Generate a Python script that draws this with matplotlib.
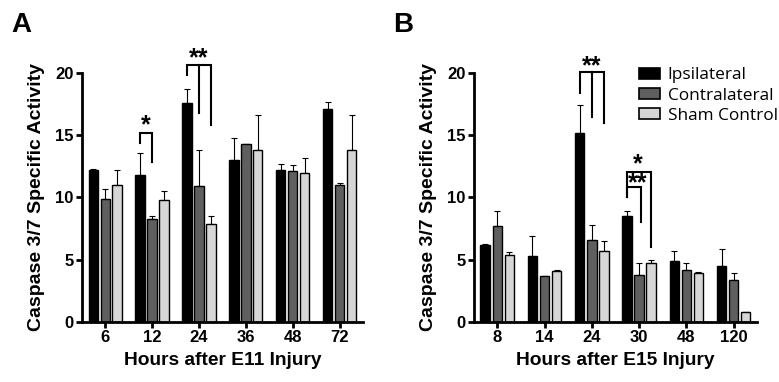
import matplotlib
matplotlib.use("Agg")
import matplotlib.pyplot as plt
import numpy as np
from matplotlib.patches import Patch
from matplotlib import font_manager as fm

series_names = ["Ipsilateral", "Contralateral", "Sham Control"]
colors = ["#000000", "#5f5f5f", "#d6d6d6"]

a_categories = ["6", "12", "24", "36", "48", "72"]
a_ipsi = [12.2, 11.8, 17.6, 13.0, 12.2, 17.1]
a_ipsi_err = [0.05, 1.8, 1.1, 1.8, 0.5, 0.6]
a_contra = [9.9, 8.3, 10.9, 14.3, 12.1, 11.0]
a_contra_err = [0.8, 0.2, 2.9, 0.0, 0.5, 0.2]
a_sham = [11.0, 9.8, 7.9, 13.8, 12.0, 13.8]
a_sham_err = [1.2, 0.7, 0.6, 2.8, 1.2, 2.8]

b_categories = ["8", "14", "24", "30", "48", "120"]
b_ipsi = [6.2, 5.3, 15.2, 8.5, 4.9, 4.5]
b_ipsi_err = [0.05, 1.6, 2.2, 0.4, 0.8, 1.4]
b_contra = [7.7, 3.7, 6.6, 3.8, 4.2, 3.4]
b_contra_err = [1.2, 0.0, 1.2, 0.9, 0.5, 0.5]
b_sham = [5.4, 4.1, 5.7, 4.7, 3.9, 0.8]
b_sham_err = [0.2, 0.1, 0.8, 0.3, 0.1, 0.0]

names = set(f.name for f in fm.fontManager.ttflist)
if "Liberation Sans Narrow" in names:
    tickprops = dict(fontfamily="Liberation Sans Narrow", fontweight="bold")
    ticksize = 13
else:
    tickprops = dict(fontfamily="Liberation Sans", fontweight="bold")
    ticksize = 12
labfont = "Liberation Sans"

fig = plt.figure(figsize=(7.79, 3.82), dpi=100)
axA = fig.add_axes([0.105, 0.157, 0.361, 0.652])
axB = fig.add_axes([0.608, 0.157, 0.364, 0.652])

off = 0.255
w = 0.2

def draw(ax, cats, data, xlabel):
    x = np.arange(len(cats))
    for i, (vals, errs) in enumerate(data):
        pos = x + (i - 1) * off
        ax.bar(pos, vals, width=w, color=colors[i], edgecolor="black", linewidth=1.0, zorder=2)
        ax.errorbar(pos, vals, yerr=[np.zeros(len(vals)), errs], fmt="none", ecolor="black",
                    elinewidth=0.8, capsize=2, capthick=0.8, zorder=1)
    ax.set_xlim(-0.5, len(cats) - 0.5)
    ax.set_ylim(0, 20)
    ax.set_yticks([0, 5, 10, 15, 20])
    ax.set_xticks(x)
    ax.set_xticklabels(cats)
    for s in ["top", "right"]:
        ax.spines[s].set_visible(False)
    for s in ["left", "bottom"]:
        ax.spines[s].set_linewidth(2)
    ax.tick_params(axis="both", width=2, length=4, labelsize=ticksize, direction="out", pad=2)
    for lab in ax.get_xticklabels() + ax.get_yticklabels():
        lab.set(**tickprops)
    ax.set_xlabel(xlabel, fontsize=13.8, fontweight="bold", fontfamily=labfont, labelpad=5)
    ax.set_ylabel("Caspase 3/7 Specific Activity", fontsize=14, fontweight="bold", fontfamily=labfont, labelpad=7)

draw(axA, a_categories, [(a_ipsi, a_ipsi_err), (a_contra, a_contra_err), (a_sham, a_sham_err)],
     "Hours after E11 Injury")
draw(axB, b_categories, [(b_ipsi, b_ipsi_err), (b_contra, b_contra_err), (b_sham, b_sham_err)],
     "Hours after E15 Injury")

def bracket(ax, x0, x1, top, ybot0, ybot1, xmid=None, ymid=None, lw=1.5):
    ax.plot([x0, x0, x1, x1], [ybot0, top, top, ybot1], color="black", lw=lw, clip_on=False,
            solid_joinstyle="miter")
    if xmid is not None:
        ax.plot([xmid, xmid], [top, ymid], color="black", lw=lw, clip_on=False)

star = dict(ha="center", va="baseline", fontsize=18, fontweight="bold", fontfamily=labfont)
# Panel A brackets
bracket(axA, 1 - off, 1, 15.2, 14.4, 12.85)
axA.text(1 - off / 2, 15.2, "*", **star)
bracket(axA, 2 - off, 2 + off, 20.6, 19.8, 15.8, xmid=2, ymid=16.8)
axA.text(2, 20.65, "**", **star)

# Panel B brackets
bracket(axB, 2 - off, 2 + off, 20.1, 18.4, 16.0, xmid=2, ymid=16.5)
axB.text(2, 20.0, "**", **star)
bracket(axB, 3 - off, 3 + off, 12.05, 10.0, 6.0)
bracket(axB, 3 - off, 3 + 0.05, 10.85, 10.0, 8.0)
axB.text(3 - 0.02, 10.55, "*\n**", multialignment="center", linespacing=0.75, **star)

handles = [Patch(facecolor=c, edgecolor="black", linewidth=1.2) for c in colors]
axB.legend(handles, series_names, loc="upper left", bbox_to_anchor=(0.56, 1.05), frameon=False,
           prop={"family": "Open Sans", "size": 12.4}, handlelength=1.2, handleheight=0.6,
           handletextpad=0.45, labelspacing=0.25, borderaxespad=0)

fig.text(0.014, 0.915, "A", fontsize=20, fontweight="bold", fontfamily=labfont)
fig.text(0.505, 0.915, "B", fontsize=20, fontweight="bold", fontfamily=labfont)

fig.savefig("out.png", dpi=100)
